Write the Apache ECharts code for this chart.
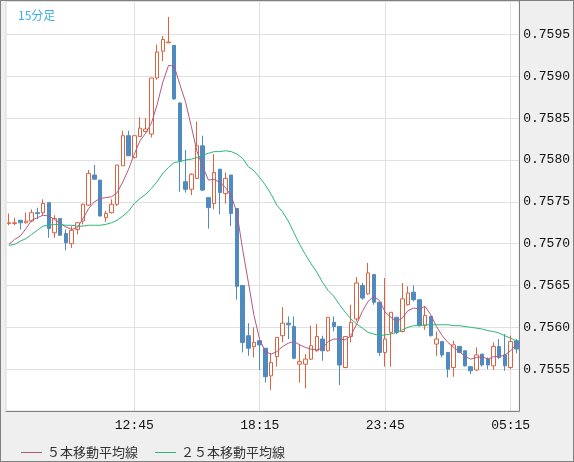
<!DOCTYPE html>
<html>
<head>
<meta charset="utf-8">
<script src="https://cdn.jsdelivr.net/npm/echarts@6/dist/echarts.min.js"></script>
<style>
  html, body { margin: 0; padding: 0; background: #efefef; }
  #chart { width: 574px; height: 462px; box-sizing: border-box; border: 1px solid #808080; }
</style>
</head>
<body>
<div id="chart"></div>
<script>
// 15-minute bars
var categories = [
  '07:15','07:30','07:45','08:00','08:15','08:30','08:45','09:00','09:15','09:30',
  '09:45','10:00','10:15','10:30','10:45','11:00','11:15','11:30','11:45','12:00',
  '12:15','12:30','12:45','13:00','13:15','13:30','13:45','14:00','14:15','14:30',
  '14:45','15:00','15:15','15:30','15:45','16:00','16:15','16:30','16:45','17:00',
  '17:15','17:30','17:45','18:00','18:15','18:30','18:45','19:00','19:15','19:30',
  '19:45','20:00','20:15','20:30','20:45','21:00','21:15','21:30','21:45','22:00',
  '22:15','22:30','22:45','23:00','23:15','23:30','23:45','00:00','00:15','00:30',
  '00:45','01:00','01:15','01:30','01:45','02:00','02:15','02:30','02:45','03:00',
  '03:15','03:30','03:45','04:00','04:15','04:30','04:45','05:00','05:15','05:30'
];
var xTickLabels = ['12:45', '18:15', '23:45', '05:15'];

var openData = [
  0.75724,0.75724,0.75728,0.75725,0.75727,0.75737,0.75737,0.75749,0.75713,0.75730,
  0.75712,0.75700,0.75717,0.75727,0.75746,0.75782,0.75776,0.75731,0.75737,0.75747,
  0.75793,0.75829,0.75803,0.75828,0.75834,0.75831,0.75898,0.75930,0.75940,0.75937,
  0.75868,0.75774,0.75765,0.75778,0.75817,0.75755,0.75748,0.75789,0.75760,0.75782,
  0.75742,0.75650,0.75590,0.75577,0.75584,0.75575,0.75542,0.75565,0.75590,0.75605,
  0.75601,0.75556,0.75556,0.75562,0.75572,0.75586,0.75572,0.75606,0.75601,0.75552,
  0.75589,0.75610,0.75650,0.75640,0.75663,0.75630,0.75570,0.75594,0.75612,0.75595,
  0.75627,0.75642,0.75633,0.75602,0.75613,0.75580,0.75583,0.75570,0.75552,0.75577,
  0.75572,0.75553,0.75549,0.75568,0.75562,0.75554,0.75577,0.75567,0.75552,0.75584
];
var closeData = [
  0.75725,0.75725,0.75725,0.75727,0.75737,0.75736,0.75748,0.75718,0.75730,0.75710,
  0.75701,0.75716,0.75725,0.75747,0.75784,0.75777,0.75733,0.75736,0.75747,0.75794,
  0.75829,0.75805,0.75829,0.75838,0.75837,0.75898,0.75929,0.75944,0.75941,0.75873,
  0.75799,0.75765,0.75783,0.75817,0.75764,0.75743,0.75785,0.75761,0.75778,0.75736,
  0.75649,0.75582,0.75575,0.75582,0.75579,0.75541,0.75558,0.75588,0.75605,0.75603,
  0.75563,0.75559,0.75562,0.75578,0.75589,0.75572,0.75612,0.75601,0.75555,0.75589,
  0.75606,0.75653,0.75635,0.75665,0.75630,0.75570,0.75586,0.75618,0.75594,0.75634,
  0.75641,0.75633,0.75602,0.75614,0.75590,0.75586,0.75567,0.75550,0.75579,0.75570,
  0.75554,0.75548,0.75567,0.75555,0.75555,0.75577,0.75564,0.75554,0.75583,0.75574
];
var lowData = [
  0.75722,0.75722,0.75717,0.75724,0.75726,0.75729,0.75733,0.75707,0.75707,0.75710,
  0.75692,0.75695,0.75711,0.75723,0.75745,0.75777,0.75733,0.75726,0.75736,0.75745,
  0.75793,0.75805,0.75802,0.75828,0.75833,0.75827,0.75896,0.75918,0.75940,0.75872,
  0.75762,0.75761,0.75758,0.75777,0.75763,0.75718,0.75741,0.75735,0.75748,0.75721,
  0.75633,0.75570,0.75566,0.75564,0.75549,0.75534,0.75525,0.75553,0.75582,0.75586,
  0.75562,0.75534,0.75527,0.75561,0.75571,0.75560,0.75571,0.75595,0.75531,0.75551,
  0.75582,0.75607,0.75633,0.75639,0.75627,0.75566,0.75553,0.75553,0.75592,0.75594,
  0.75626,0.75631,0.75601,0.75597,0.75589,0.75566,0.75564,0.75540,0.75541,0.75569,
  0.75553,0.75544,0.75548,0.75553,0.75550,0.75549,0.75562,0.75548,0.75550,0.75569
];
var highData = [
  0.75736,0.75731,0.75728,0.75737,0.75741,0.75743,0.75753,0.75749,0.75734,0.75730,
  0.75717,0.75721,0.75726,0.75748,0.75788,0.75794,0.75776,0.75739,0.75753,0.75794,
  0.75835,0.75835,0.75829,0.75851,0.75850,0.75898,0.75938,0.75948,0.75971,0.75937,
  0.75869,0.75812,0.75784,0.75846,0.75829,0.75755,0.75807,0.75789,0.75785,0.75782,
  0.75742,0.75650,0.75605,0.75600,0.75584,0.75575,0.75569,0.75588,0.75624,0.75613,
  0.75613,0.75580,0.75568,0.75602,0.75604,0.75590,0.75612,0.75613,0.75601,0.75589,
  0.75627,0.75660,0.75653,0.75677,0.75663,0.75630,0.75659,0.75618,0.75612,0.75653,
  0.75649,0.75650,0.75633,0.75625,0.75613,0.75595,0.75583,0.75570,0.75584,0.75578,
  0.75572,0.75553,0.75576,0.75568,0.75564,0.75582,0.75586,0.75592,0.75590,0.75586
];
// moving averages as drawn on the chart
var ma5Data = [
  0.75699,0.75705,0.75709,0.75718,0.75728,0.75731,0.75734,0.75733,0.75729,0.75724,
  0.75720,0.75717,0.75719,0.75730,0.75742,0.75750,0.75754,0.75755,0.75756,0.75761,
  0.75774,0.75789,0.75807,0.75823,0.75832,0.75844,0.75866,0.75893,0.75913,0.75912,
  0.75890,0.75869,0.75840,0.75810,0.75792,0.75776,0.75777,0.75773,0.75767,0.75757,
  0.75737,0.75693,0.75654,0.75614,0.75585,0.75571,0.75568,0.75571,0.75577,0.75581,
  0.75583,0.75579,0.75576,0.75574,0.75573,0.75575,0.75583,0.75586,0.75586,0.75585,
  0.75590,0.75604,0.75619,0.75631,0.75637,0.75632,0.75618,0.75612,0.75607,0.75611,
  0.75620,0.75623,0.75622,0.75625,0.75615,0.75601,0.75590,0.75582,0.75576,0.75571,
  0.75565,0.75562,0.75564,0.75565,0.75562,0.75565,0.75565,0.75567,0.75572,0.75580
];
var ma25Data = [
  0.75698,0.75699,0.75703,0.75706,0.75711,0.75716,0.75721,0.75722,0.75723,0.75723,
  0.75722,0.75722,0.75721,0.75721,0.75722,0.75722,0.75722,0.75723,0.75725,0.75728,
  0.75733,0.75739,0.75748,0.75754,0.75759,0.75766,0.75774,0.75784,0.75791,0.75797,
  0.75798,0.75800,0.75801,0.75803,0.75806,0.75808,0.75810,0.75810,0.75811,0.75810,
  0.75807,0.75802,0.75792,0.75787,0.75779,0.75770,0.75759,0.75746,0.75738,0.75727,
  0.75713,0.75699,0.75687,0.75676,0.75666,0.75654,0.75644,0.75637,0.75627,0.75618,
  0.75610,0.75604,0.75599,0.75594,0.75592,0.75590,0.75591,0.75592,0.75594,0.75597,
  0.75600,0.75602,0.75602,0.75603,0.75603,0.75603,0.75603,0.75603,0.75602,0.75602,
  0.75601,0.75600,0.75599,0.75598,0.75596,0.75595,0.75593,0.75590,0.75587,0.75584
];

var candleData = [];
for (var i = 0; i < categories.length; i++) {
  candleData.push([openData[i], closeData[i], lowData[i], highData[i]]);
}

function showTime(index) {
  return xTickLabels.indexOf(categories[index]) >= 0;
}

var chart = echarts.init(document.getElementById('chart'));
var option = {
  animation: false,
  backgroundColor: '#efefef',
  title: {
    text: '15分足',
    left: 12,
    top: 3,
    textStyle: {
      fontSize: 12,
      fontWeight: 'normal',
      color: '#3aaee6',
      fontFamily: 'Noto Sans CJK JP'
    }
  },
  legend: {
    left: 15,
    top: 440,
    icon: 'rect',
    itemWidth: 21,
    itemHeight: 1,
    itemGap: 17,
    textStyle: {
      fontSize: 13,
      color: '#333',
      fontFamily: 'Noto Sans CJK JP'
    },
    data: ['５本移動平均線', '２５本移動平均線']
  },
  grid: {
    left: 5,
    right: 51,
    top: 0,
    bottom: 50,
    show: true,
    backgroundColor: '#fff',
    borderColor: '#d8d8d8',
    borderWidth: 1
  },
  xAxis: {
    type: 'category',
    data: categories,
    boundaryGap: true,
    axisLine: { lineStyle: { color: '#808080' } },
    axisTick: { show: false },
    axisLabel: {
      interval: showTime,
      margin: 8,
      color: '#111',
      fontSize: 13,
      fontFamily: 'Liberation Mono'
    },
    splitLine: {
      show: true,
      interval: showTime,
      alignWithLabel: true,
      lineStyle: { color: '#e0e0e0' }
    }
  },
  yAxis: {
    type: 'value',
    position: 'right',
    scale: true,
    min: 0.7550,
    max: 0.7599,
    interval: 0.0005,
    axisLine: { show: true, lineStyle: { color: '#808080' } },
    axisTick: { show: false },
    axisLabel: {
      margin: 4,
      color: '#111',
      fontSize: 13,
      fontFamily: 'Liberation Mono',
      showMinLabel: false,
      showMaxLabel: false,
      formatter: function (v) { return v.toFixed(4); }
    },
    splitLine: { lineStyle: { color: '#e0e0e0' } }
  },
  series: [
    {
      name: '15分足',
      type: 'candlestick',
      data: candleData,
      barWidth: 4,
      itemStyle: {
        color: '#ffffff',
        color0: '#4f8bc0',
        borderColor: '#d9643f',
        borderColor0: '#4f8bc0',
        borderWidth: 1
      }
    },
    {
      name: '５本移動平均線',
      type: 'line',
      data: ma5Data,
      symbol: 'none',
      lineStyle: { width: 1, color: '#b5587f' },
      itemStyle: { color: '#b5587f' }
    },
    {
      name: '２５本移動平均線',
      type: 'line',
      data: ma25Data,
      symbol: 'none',
      lineStyle: { width: 1, color: '#2db677' },
      itemStyle: { color: '#2db677' }
    }
  ]
};
chart.setOption(option);
</script>
</body>
</html>
